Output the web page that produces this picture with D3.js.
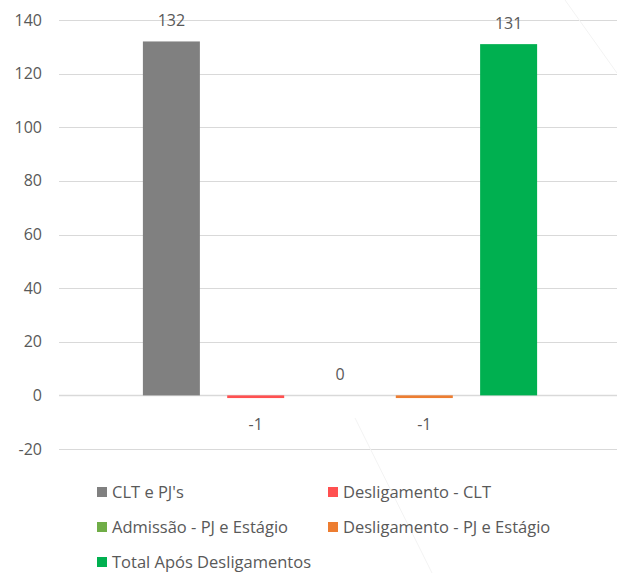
<!DOCTYPE html>
<html>
<head>
<meta charset="utf-8">
<script src="https://cdn.jsdelivr.net/npm/d3@7"></script>
<style>
  body { margin: 0; background: #fff; }
  svg text { font-family: "Open Sans", "Noto Sans", sans-serif; fill: #595959; }
</style>
</head>
<body>
<svg id="chart"></svg>
<script>
// Chart data
const seriesNames = ["CLT e PJ's", "Desligamento - CLT", "Admissão - PJ e Estágio", "Desligamento - PJ e Estágio", "Total Após Desligamentos"];
const seriesValues = [132, -1, 0, -1, 131];
const seriesColors = ['#808080', '#ff5050', '#70ad47', '#ed7d31', '#00b050'];
const yTicks = [-20, 0, 20, 40, 60, 80, 100, 120, 140];

const width = 617, height = 573;
const svg = d3.select('#chart').attr('width', width).attr('height', height);

const y = d3.scaleLinear().domain([-20, 140]).range([449, 20]);
const x = d3.scaleBand()
    .domain(seriesNames)
    .range([59, 621])
    .paddingInner(0.324)
    .paddingOuter(0.995);

// Gridlines
svg.append('g').selectAll('line')
    .data(yTicks)
    .join('line')
    .attr('x1', 59).attr('x2', width)
    .attr('y1', d => Math.round(y(d)) + 0.5)
    .attr('y2', d => Math.round(y(d)) + 0.5)
    .attr('stroke', '#d9d9d9')
    .attr('stroke-width', d => d === 0 ? 1.5 : 1);

// Y axis labels
svg.append('g').selectAll('text')
    .data(yTicks)
    .join('text')
    .attr('x', 42)
    .attr('y', d => y(d))
    .attr('dy', '0.35em')
    .attr('text-anchor', 'end')
    .attr('font-size', '16px')
    .text(d => d);

// faint artifact lines seen in the picture
svg.append('line').attr('x1', 565).attr('y1', 0).attr('x2', 617).attr('y2', 73)
    .attr('stroke', '#f3f3f3').attr('stroke-width', 1);
svg.append('line').attr('x1', 355).attr('y1', 418).attr('x2', 432).attr('y2', 573)
    .attr('stroke', '#f3f3f3').attr('stroke-width', 1);

// Bars
svg.append('g').selectAll('rect')
    .data(seriesNames)
    .join('rect')
    .attr('x', d => x(d))
    .attr('width', x.bandwidth())
    .attr('y', (d, i) => y(Math.max(0, seriesValues[i])))
    .attr('height', (d, i) => Math.abs(y(seriesValues[i]) - y(0)))
    .attr('fill', (d, i) => seriesColors[i]);

// Data labels
svg.append('g').selectAll('text')
    .data(seriesNames)
    .join('text')
    .attr('x', d => x(d) + x.bandwidth() / 2)
    .attr('y', (d, i) => seriesValues[i] < 0 ? y(seriesValues[i]) + 26 : y(seriesValues[i]) - 21)
    .attr('dy', '0.35em')
    .attr('text-anchor', 'middle')
    .attr('font-size', '16px')
    .text((d, i) => seriesValues[i]);

// Legend
const legendCols = [97, 328];
const legendRows = [492, 527, 562];
const legend = svg.append('g').selectAll('g')
    .data(seriesNames)
    .join('g')
    .attr('transform', (d, i) => `translate(${legendCols[i % 2]},${legendRows[Math.floor(i / 2)]})`);

legend.append('rect')
    .attr('x', 0).attr('y', -5)
    .attr('width', 10).attr('height', 10)
    .attr('fill', (d, i) => seriesColors[i]);

legend.append('text')
    .attr('x', 15)
    .attr('dy', '0.35em')
    .attr('font-size', '16.5px')
    .text(d => d);
</script>
</body>
</html>
